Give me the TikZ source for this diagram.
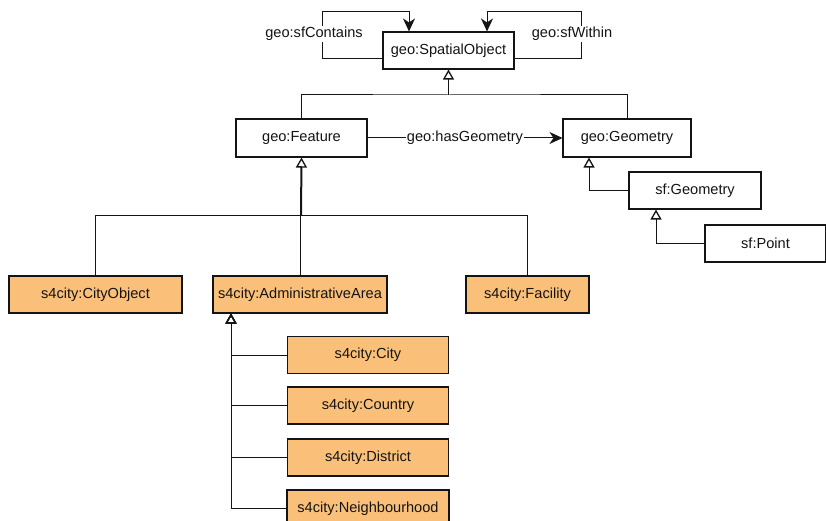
\documentclass[tikz,border=0pt]{standalone}
\usepackage{fontspec}
\setmainfont{Liberation Sans}
\usetikzlibrary{arrows.meta}
\definecolor{cityfill}{RGB}{250,192,122}
\definecolor{ink}{RGB}{20,20,20}
\tikzset{
  cls/.style={draw=ink, line width=1.1pt, fill=white, inner sep=0pt, text=ink,
    font=\fontsize{14.6}{17}\selectfont, minimum height=37pt},
  citycls/.style={cls, fill=cityfill},
  link/.style={draw=ink, line width=1pt},
  gen/.style={link, -{Triangle[open, width=11pt, length=10pt, line width=1.3pt]}},
  rel/.style={link, -{Stealth[width=12pt, length=13pt, inset=4pt]}},
  lbl/.style={fill=white, inner sep=1pt, text=ink, font=\fontsize{14.6}{17}\selectfont},
}
\begin{document}
\begin{tikzpicture}[x=1pt, y=-1pt]
\clip (0,0) rectangle (826,521);
\fill[white] (0,0) rectangle (826,521);

% classes
\node[cls, minimum width=131pt] (so) at (448.5,50.5) {geo:SpatialObject};
\node[cls, minimum width=131pt, minimum height=38pt] (feat) at (301.5,138) {geo:Feature};
\node[cls, minimum width=128pt, minimum height=38pt] (geom) at (627,138) {geo:Geometry};
\node[cls, minimum width=132pt] (sfgeom) at (695,190.5) {sf:Geometry};
\node[cls, minimum width=121pt] (sfpt) at (765.5,243.5) {sf:Point};

\node[citycls, minimum width=173pt] (cityobj) at (95.5,294.5) {s4city:CityObject};
\node[citycls, minimum width=174pt] (admin) at (300,294.5) {s4city:AdministrativeArea};
\node[citycls, minimum width=123pt] (facility) at (527.5,294.5) {s4city:Facility};

\node[citycls, minimum width=161pt] (city) at (368,355) {s4city:City};
\node[citycls, minimum width=161pt] (country) at (368,405.5) {s4city:Country};
\node[citycls, minimum width=161pt] (district) at (368,457.5) {s4city:District};
\node[citycls, minimum width=162pt] (neigh) at (368,508.5) {s4city:Neighbourhood};

% self relations of geo:SpatialObject
\coordinate (cl) at (322,12);
\coordinate (cr) at (581,12);
\draw[rel] ([yshift=-8.5pt]so.west) -| (cl) -| ([xshift=-39.5pt]so.north);
\draw[rel] ([yshift=-8.5pt]so.east) -| (cr) -| ([xshift=38.5pt]so.north);
\node[lbl] (lc) at (314,34) {geo:sfContains};
\node[lbl] (lw) at (572,34) {geo:sfWithin};

% subclasses of geo:SpatialObject
\coordinate (j1) at (448.5,95);
\draw[gen] (j1) -- (so.south);
\draw[link] (feat.north) |- (j1) -| (geom.north);

% geo:hasGeometry
\draw[rel] (feat) -- (geom) node[lbl, midway, inner sep=0.5pt] (hg) {geo:hasGeometry};

% geometry hierarchy
\draw[gen] (sfgeom.west) -| ([xshift=-38pt]geom.south);
\draw[gen] (sfpt.west) -| ([xshift=-39pt]sfgeom.south);

% subclasses of geo:Feature
\coordinate (j2) at (301,215.5);
\draw[gen, line width=2pt] (j2) -- (feat.south);
\draw[link] (cityobj.north) |- (j2) -| (facility.north);
\draw[link] (admin.north) -- (admin.north |- j2);

% subclasses of s4city:AdministrativeArea
\coordinate (sp) at ([xshift=-69pt]admin.south);
\draw[gen] (city.west) -| (sp);
\draw[gen] (country.west) -| (sp);
\draw[gen] (district.west) -| (sp);
\draw[gen] (neigh.west) -| (sp);
\end{tikzpicture}
\end{document}
